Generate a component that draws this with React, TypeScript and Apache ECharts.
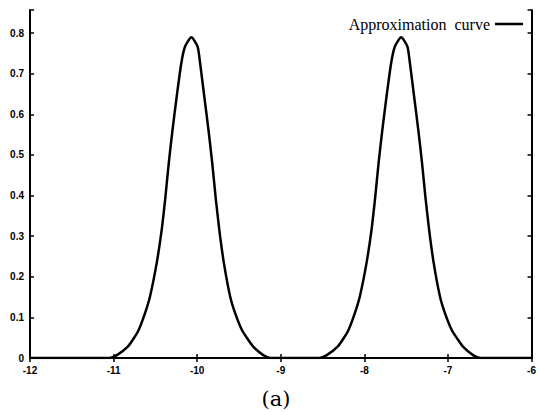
import React, { useEffect, useRef } from "react";
import * as echarts from "echarts";

const seriesName = "Approximation  curve";
const caption = "(a)";

// curve samples
const curveX = [
  -12, -11.05, -10.96, -10.83, -10.76, -10.7, -10.625, -10.565, -10.485, -10.425, -10.38, -10.34, -10.295,
  -10.245, -10.19, -10.145, -10.07, -9.995, -9.965, -9.915, -9.865, -9.82, -9.78, -9.735, -9.68, -9.605,
  -9.545, -9.465, -9.4, -9.33, -9.21, -9.12,
  -8.54, -8.45, -8.32, -8.25, -8.19, -8.115, -8.055, -7.975, -7.915, -7.87, -7.83, -7.785, -7.735, -7.68,
  -7.635, -7.56, -7.485, -7.455, -7.405, -7.355, -7.31, -7.27, -7.225, -7.17, -7.095, -7.035, -6.955, -6.89,
  -6.82, -6.7, -6.61, -6,
];
const curveY = [
  0, 0, 0.007, 0.028, 0.048, 0.069, 0.11, 0.151, 0.233, 0.315, 0.397, 0.48, 0.562,
  0.644, 0.726, 0.767, 0.79, 0.767, 0.726, 0.644, 0.562, 0.48, 0.397, 0.315, 0.233, 0.151,
  0.11, 0.069, 0.048, 0.028, 0.007, 0,
  0, 0.007, 0.028, 0.048, 0.069, 0.11, 0.151, 0.233, 0.315, 0.397, 0.48, 0.562, 0.644, 0.726,
  0.767, 0.79, 0.767, 0.726, 0.644, 0.562, 0.48, 0.397, 0.315, 0.233, 0.151, 0.11, 0.069, 0.048,
  0.028, 0.007, 0, 0,
];

const xMin = -12;
const xMax = -6;
const xStep = 1;
const yMin = 0;
const yMax = 0.857;
const yStep = 0.1;
const yLabelTop = 0.8;

export default function App() {
  const ref = useRef<HTMLDivElement>(null);

  useEffect(() => {
    document.body.style.margin = "0";
    if (!ref.current) return;
    const chart = echarts.init(ref.current, null, { renderer: "svg" });
    const data = curveX.map((x, i) => [x, curveY[i]]);
    const labelStyle = {
      color: "#000",
      fontSize: 10,
      fontWeight: "bold" as const,
      fontFamily: "Liberation Sans, Arial, sans-serif",
    };
    const lineStyle = { color: "#000", width: 2 };
    const tick = { show: true, inside: true, length: 4, lineStyle: { color: "#000", width: 1.5 } };
    chart.setOption({
      animation: false,
      backgroundColor: "#fff",
      grid: { left: 30, right: 1, top: 10, bottom: 54, containLabel: false },
      legend: {
        data: [seriesName],
        right: 11,
        top: 11,
        align: "right",
        icon: "rect",
        itemWidth: 28,
        itemHeight: 2.5,
        textStyle: {
          color: "#000",
          fontSize: 16,
          fontFamily: "Liberation Serif, Times New Roman, serif",
        },
      },
      xAxis: [
        {
          type: "value",
          min: xMin,
          max: xMax,
          interval: xStep,
          position: "bottom",
          axisLine: { show: true, lineStyle },
          axisTick: tick,
          splitLine: { show: false },
          axisLabel: { ...labelStyle, margin: 7 },
        },
        {
          type: "value",
          min: xMin,
          max: xMax,
          interval: xStep,
          position: "top",
          axisLine: { show: true, lineStyle },
          axisTick: tick,
          splitLine: { show: false },
          axisLabel: { show: false },
        },
      ],
      yAxis: [
        {
          type: "value",
          min: yMin,
          max: yMax,
          interval: yStep,
          position: "left",
          axisLine: { show: true, lineStyle },
          axisTick: tick,
          splitLine: { show: false },
          axisLabel: {
            ...labelStyle,
            margin: 6,
            formatter: (v: number) => {
              const k = v / yStep;
              if (Math.abs(k - Math.round(k)) > 1e-6 || v > yLabelTop + 1e-9) return "";
              return v === 0 ? "0" : v.toFixed(1);
            },
          },
        },
        {
          type: "value",
          min: yMin,
          max: yMax,
          interval: yStep,
          position: "right",
          axisLine: { show: true, lineStyle },
          axisTick: tick,
          splitLine: { show: false },
          axisLabel: { show: false },
        },
      ],
      series: [
        {
          name: seriesName,
          type: "line",
          xAxisIndex: 0,
          yAxisIndex: 0,
          data,
          showSymbol: false,
          symbol: "none",
          smooth: 0.2,
          lineStyle: { color: "#000", width: 2.5 },
          itemStyle: { color: "#000" },
          z: 3,
        },
      ],
      graphic: [
        {
          type: "text",
          x: 276,
          y: 399,
          style: {
            text: caption,
            fill: "#000",
            font: "21px DejaVu Serif, serif",
            textAlign: "center",
            textVerticalAlign: "middle",
          },
        },
      ],
    });
    return () => chart.dispose();
  }, []);

  return (
    <div
      ref={ref}
      style={{ position: "absolute", left: 0, top: 0, width: 539, height: 412, background: "#fff" }}
    />
  );
}
